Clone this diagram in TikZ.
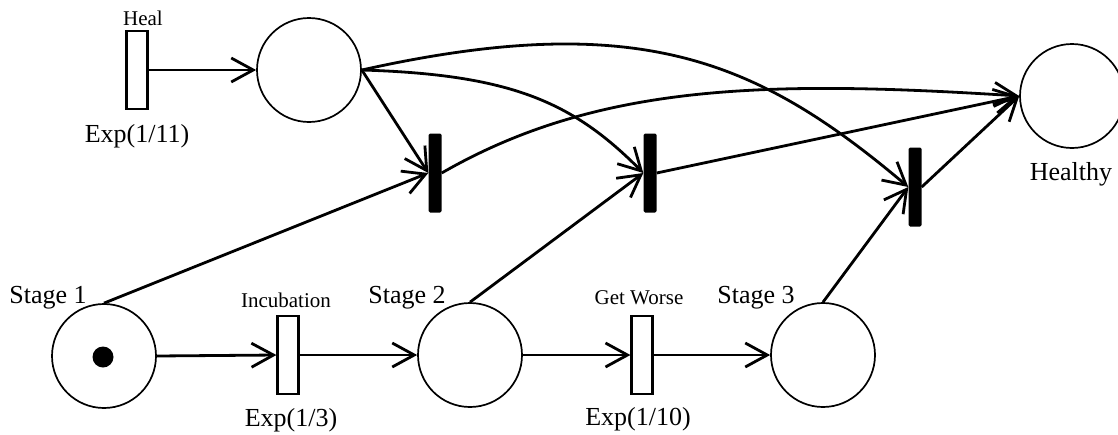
\documentclass[tikz,border=0pt]{standalone}
\usepackage{fontspec}
\setmainfont{Liberation Serif}
\usetikzlibrary{arrows.meta}
\begin{document}
\begin{tikzpicture}[x=1pt,y=-1pt,
  place/.style={circle,draw,line width=1.7pt,minimum size=104pt,inner sep=0pt},
  timed/.style={rectangle,draw,line width=2.2pt,minimum width=21pt,minimum height=78pt,inner sep=0pt},
  immed/.style={rectangle,fill=black,rounded corners=1.5pt,minimum width=13pt,minimum height=79pt,inner sep=0pt},
  token/.style={circle,fill=black,minimum size=21pt,inner sep=0pt},
  arc/.style={line width=2.8pt,-{Straight Barb[length=22pt,width=24pt]}},
  big/.style={font=\fontsize{26}{30}\selectfont,inner sep=0pt},
  small/.style={font=\fontsize{21}{24}\selectfont,inner sep=0pt}]
\useasboundingbox (0,0) rectangle (1118,434);

% places
\node[place] (recov)   at (309,70)  {};
\node[place] (healthy) at (1072,96) {};
\node[place] (s1)      at (104,356) {};
\node[place] (s2)      at (470,355) {};
\node[place] (s3)      at (823,355) {};
\node[token] (tok)     at (103,357) {};

% timed transitions
\node[timed] (heal) at (137,70)  {};
\node[timed] (inc)  at (288,355) {};
\node[timed] (gw)   at (642,355) {};

% immediate transitions
\node[immed] (t1) at (435,173) {};
\node[immed] (t2) at (650,173) {};
\node[immed] (t3) at (915,187) {};

% labels
\node[small] (lheal) at (143,18)  {Heal};
\node[big]   (rheal) at (137,136) {Exp(1/11)};
\node[big]   (lhealthy) at (1071,174) {Healthy};
\node[big]   (ls1)   at (48,298)  {Stage 1};
\node[small] (linc)  at (286,300) {Incubation};
\node[big]   (ls2)   at (407,298) {Stage 2};
\node[small] (lgw)   at (639,298) {Get Worse};
\node[big]   (ls3)   at (756,298) {Stage 3};
\node[big]   (rinc)  at (291,420) {Exp(1/3)};
\node[big]   (rgw)   at (638,419) {Exp(1/10)};

% arcs
\draw[arc] (heal.east) -- (recov.west);
\draw[arc] (recov.east) -- (t1.west);
\draw[arc] (recov.east) .. controls (511,74.5) and (573,102) .. (t2.west);
\draw[arc] (recov.east) .. controls (640,8) and (759,61) .. (t3.west);
\draw[arc] (t1.east) .. controls (598,83) and (768,80) .. (healthy.west);
\draw[arc] (t2.east) -- (healthy.west);
\draw[arc] (t3.east) -- (healthy.west);
\draw[arc] (s1.north) -- (t1.west);
\draw[arc] (s2.north) -- (t2.west);
\draw[arc] (s3.north) -- (t3.west);
\draw[arc] (s1.east) -- (inc.west);
\draw[arc] (inc.east) -- (s2.west);
\draw[arc] (s2.east) -- (gw.west);
\draw[arc] (gw.east) -- (s3.west);
\end{tikzpicture}
\end{document}
